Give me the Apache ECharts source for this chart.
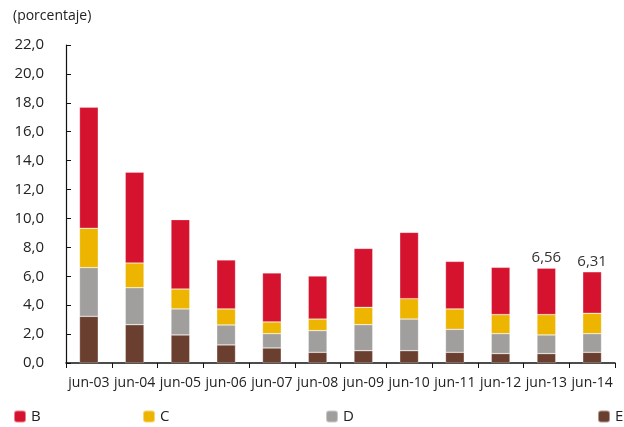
<!DOCTYPE html>
<html>
<head>
<meta charset="utf-8">
<script src="https://cdn.jsdelivr.net/npm/echarts@6/dist/echarts.min.js"></script>
<style>
  html, body { margin: 0; padding: 0; background: #fff; }
  #chart { width: 624px; height: 427px; }
</style>
</head>
<body>
<div id="chart"></div>
<script>
// Categories (June of each year)
const categories = ['jun-03','jun-04','jun-05','jun-06','jun-07','jun-08','jun-09','jun-10','jun-11','jun-12','jun-13','jun-14'];

// Stacked components, in percent (bottom to top: E, D, C, B)
const seriesE = [3.23, 2.65, 1.94, 1.25, 1.04, 0.74, 0.85, 0.85, 0.74, 0.65, 0.65, 0.74];
const seriesD = [3.37, 2.56, 1.80, 1.38, 0.99, 1.50, 1.80, 2.19, 1.59, 1.38, 1.29, 1.29];
const seriesC = [2.72, 1.71, 1.38, 1.11, 0.81, 0.80, 1.20, 1.41, 1.41, 1.32, 1.41, 1.41];
const seriesB = [8.38, 6.28, 4.80, 3.39, 3.39, 2.98, 4.08, 4.59, 3.29, 3.27, 3.21, 2.87];

// Categories whose total is written above the bar
const labelledCategories = ['jun-13', 'jun-14'];

// Y axis range
const yMin = 0, yMax = 22, yStep = 2;

const FONT = '"Open Sans", "Noto Sans", sans-serif';
const colors = { B: '#D5132E', C: '#EDB400', D: '#A09F9E', E: '#6B3F2F' };

const totals = categories.map((_, i) => seriesE[i] + seriesD[i] + seriesC[i] + seriesB[i]);
const fmt = (v, d) => v.toFixed(d).replace('.', ',');

const bData = seriesB.map((v, i) => {
  if (labelledCategories.indexOf(categories[i]) < 0) return v;
  return {
    value: v,
    label: {
      show: true,
      position: 'top',
      distance: 3,
      formatter: () => fmt(totals[i], 2),
      color: '#333',
      fontSize: 15,
      fontFamily: FONT
    }
  };
});

function barSeries(name, data) {
  return {
    name: name,
    type: 'bar',
    stack: 'total',
    data: data,
    barWidth: '41%',
    itemStyle: { color: colors[name], borderColor: 'rgba(255,255,255,0.45)', borderWidth: 0.6 },
    emphasis: { disabled: true }
  };
}

function legendAt(name, left) {
  return {
    data: [name],
    left: left,
    top: 404,
    itemWidth: 12,
    itemHeight: 12,
    itemGap: 4,
    textStyle: { fontFamily: FONT, fontSize: 15, color: '#222', padding: [0, 0, 0, 0] },
    selectedMode: false
  };
}

const chart = echarts.init(document.getElementById('chart'), null, { renderer: 'canvas' });
chart.setOption({
  animation: false,
  backgroundColor: '#fff',
  title: {
    text: '(porcentaje)',
    left: 8,
    top: 4,
    textStyle: { fontFamily: FONT, fontSize: 14, fontWeight: 'normal', color: '#222' }
  },
  legend: [legendAt('B', 8), legendAt('C', 137), legendAt('D', 320), legendAt('E', 592)],
  grid: { left: 66, right: 9, top: 45, bottom: 64 },
  xAxis: {
    type: 'category',
    data: categories,
    axisLine: { lineStyle: { color: '#111', width: 1.5 } },
    axisTick: { show: true, inside: false, length: 5, alignWithLabel: false, lineStyle: { color: '#111' } },
    axisLabel: { interval: 0, color: '#222', fontFamily: FONT, fontSize: 14, margin: 13 }
  },
  yAxis: {
    type: 'value',
    min: yMin,
    max: yMax,
    interval: yStep,
    splitLine: { show: false },
    axisLine: { show: true, lineStyle: { color: '#111', width: 1.2 } },
    axisTick: { show: true, inside: true, length: 5, lineStyle: { color: '#111' } },
    axisLabel: { color: '#222', fontFamily: FONT, fontSize: 15, margin: 22, formatter: v => fmt(v, 1) }
  },
  series: [
    barSeries('E', seriesE),
    barSeries('D', seriesD),
    barSeries('C', seriesC),
    barSeries('B', bData)
  ]
});
</script>
</body>
</html>
